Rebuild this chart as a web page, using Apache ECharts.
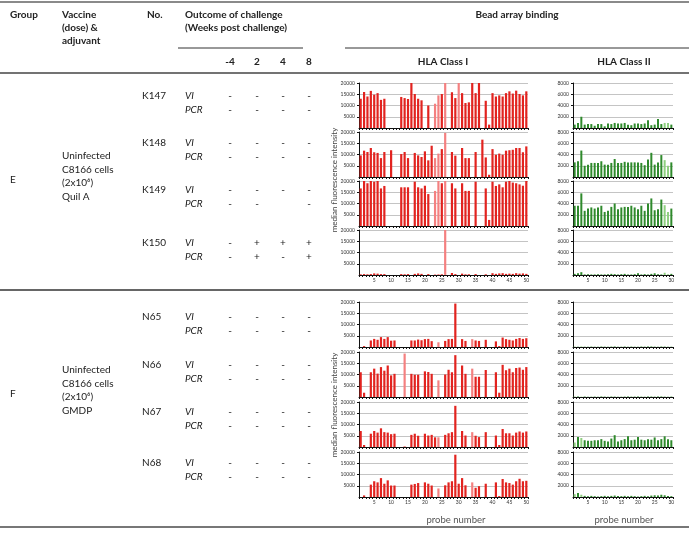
<!DOCTYPE html>
<html><head><meta charset="utf-8">
<script src="https://cdn.jsdelivr.net/npm/echarts@6/dist/echarts.min.js"></script>
<style>html,body{margin:0;padding:0;background:#fff}#c{width:689px;height:533px}</style>
</head><body><div id="c"></div>
<script>
// ---------- data ----------
const probesI = [1,2,3,4,5,6,7,8,9,10,11,12,13,14,15,16,17,18,19,20,21,22,23,24,25,26,27,28,29,30,31,32,33,34,35,36,37,38,39,40,41,42,43,44,45,46,47,48,49,50];
const probesII = [1,2,3,4,5,6,7,8,9,10,11,12,13,14,15,16,17,18,19,20,21,22,23,24,25,26,27,28,29,30];
const ticksI = [0,5000,10000,15000,20000];
const ticksII = [0,2000,4000,6000,8000];

const animalsE = ['K147','K148','K149','K150'];
const animalsF = ['N65','N66','N67','N68'];
const weeks = ['-4','2','4','8'];
const viE  = [['-','-','-','-'],['-','-','-','-'],['-','-','-','-'],['-','+','+','+']];
const pcrE = [['-','-','-','-'],['-','-','-','-'],['-','-','','-'],['-','+','-','+']];
const viF  = [['-','-','-','-'],['-','-','-','-'],['-','-','-','-'],['-','-','-','-']];
const pcrF = [['-','-','-','-'],['-','-','-','-'],['-','-','-','-'],['-','-','-','-']];

const K147_I = [13000,16000,14000,16500,14800,15500,12500,13000,null,null, null,null,13800,13300,12900,20000,15100,13000,12300,null, 10000,null,10800,14500,15100,20000,null,15900,13300,20000, 15500,11100,11400,20000,15500,20000,null,12100,1500,15500, 14000,14500,14000,15500,16300,15300,16600,15100,14500,16300];
const K148_I = [9600,11700,11100,12900,11000,10700,8400,11100,null,11900, null,null,10200,11100,8400,null,10700,9600,8900,11400, 7400,13900,8400,10400,12400,19600,null,11100,9500,null, 12900,8400,8400,null,11100,null,16600,8700,1000,12400, 9900,10400,9900,11700,11900,12100,12900,12900,11000,13600];
const K149_I = [16700,20000,19000,20000,19700,20000,16700,17800,null,null, null,null,17200,17200,17200,null,19700,17200,16700,17900, 14200,null,15600,20000,19000,20000,null,19000,16700,null, 19000,15600,15600,null,19700,null,null,16700,2700,19700, 17800,18500,17200,19700,20000,19300,19000,18500,17900,20000];
const K150_I = [300,400,300,400,700,600,400,400,null,null, null,null,400,300,400,null,500,700,500,null, 400,null,300,400,300,20000,null,900,400,null, 600,300,300,null,400,null,null,300,null,800, 500,700,800,500,600,500,800,600,700,500];

const K147_II = [600,900,2000,600,700,700,400,700,700,300,800,700,900,800,800,900,600,500,800,800,700,800,1400,500,600,1600,700,900,900,600];
const K148_II = [2600,2800,4700,2000,2200,2500,2500,2500,2800,2200,2200,2500,3200,2500,2500,2700,2600,2600,2600,2600,2500,2100,3100,4300,2200,2600,3900,3000,2000,2600];
const K149_II = [3600,3600,5800,2700,3100,3300,3100,3300,3600,2500,2700,3400,4000,3000,3300,3400,3400,3600,3300,3000,3600,2700,4000,4900,2800,3000,4700,3700,2500,3100];
const K150_II = [200,300,500,100,150,100,100,150,100,100,150,200,150,100,150,200,100,100,150,300,100,150,100,200,300,150,100,400,150,200];

const N65_I = [null,400,null,2900,3600,3200,4400,3600,4400,2800, 2900,null,null,null,null,2900,2900,3300,3000,3500, 3600,2600,null,2100,null,2700,3500,3600,19300,null, 3500,2700,null,3500,2900,2700,null,3200,null,null, 2500,400,4200,3500,3200,2900,3600,4000,3600,3900];
const N66_I = [11000,1900,null,11000,12600,10400,13300,11700,14000,9600, 10300,null,null,19300,null,10300,9900,9900,null,11400, 11100,10300,null,7400,null,10000,12100,11000,18600,null, 14000,10300,null,12600,9000,9000,null,12000,null,null, 11000,1900,14300,11900,12600,11000,12900,13100,12100,13300];
const N67_I = [7100,900,null,5900,7100,6400,8300,6600,6400,5700, 5900,null,null,400,null,5400,5900,5000,null,5900, 5100,5400,4300,4300,null,5400,6100,6600,18300,null, 7100,5100,null,6600,5000,4400,null,6600,null,null, 5100,900,8000,6100,6100,5100,6400,6900,6400,6900];
const N68_I = [null,700,null,5500,7000,6500,8400,5900,7400,5100, 5100,null,null,null,null,5500,5800,6200,null,6500, 5900,5100,null,3800,null,5200,6500,7000,18800,5900, 8400,5200,null,6500,4100,4800,null,5900,null,null, 6500,400,8000,6500,6200,5500,7000,8100,7000,7200];

const N65_II = [80,60,100,50,60,70,50,60,80,60,50,70,90,60,50,80,60,70,50,60,80,60,70,90,60,50,80,70,60,50];
const N66_II = [90,70,60,80,60,50,70,60,90,70,60,80,70,60,50,70,80,60,70,90,60,50,70,80,60,70,90,60,50,70];
const N67_II = [800,1800,1600,1200,1100,1100,1200,1200,1400,1100,1000,1500,2100,1000,1200,1400,1900,1200,1300,1800,1300,1200,1400,1300,1700,1200,1400,1900,1400,1200];
const N68_II = [500,700,400,200,150,200,150,100,150,200,150,200,250,200,150,200,150,200,150,100,150,200,150,250,300,250,400,300,200,150];

const lightE_I = [23,24,26,30];
const lightF_I = [14,24,34];
const lightE_II = [28,29];
const lightF_II = [1,3];

// ---------- layout ----------
const FONT = "Lato, 'DejaVu Sans', sans-serif";
const topsE = [83,132,181,230];
const topsF = [302,352,402,452];
const PH = 45;

const panels = [];
const seriesE_I = [K147_I,K148_I,K149_I,K150_I];
const seriesE_II = [K147_II,K148_II,K149_II,K150_II];
const seriesF_I = [N65_I,N66_I,N67_I,N68_I];
const seriesF_II = [N65_II,N66_II,N67_II,N68_II];
for (let i=0;i<4;i++){
  panels.push({cls:'I', top:topsE[i], data:seriesE_I[i], light:lightE_I, last:i===3});
  panels.push({cls:'II', top:topsE[i], data:seriesE_II[i], light:lightE_II, last:i===3});
  panels.push({cls:'I', top:topsF[i], data:seriesF_I[i], light:lightF_I, last:i===3});
  panels.push({cls:'II', top:topsF[i], data:seriesF_II[i], light:lightF_II, last:i===3});
}

const grid=[], xAxis=[], yAxis=[], series=[];
panels.forEach((p,k)=>{
  const isI = p.cls==='I';
  const ticks = isI?ticksI:ticksII;
  grid.push({left:isI?359:573, width:isI?169:100, top:p.top, height:PH});
  xAxis.push({type:'category', gridIndex:k, data:isI?probesI:probesII, boundaryGap:true,
    axisLine:{lineStyle:{color:'#111',width:1}},
    axisTick:{show:true, interval:0, length:2, lineStyle:{color:'#111',width:1}},
    axisLabel:{show:p.last, interval:(idx)=>((idx+1)%5===0), fontSize:5, margin:3, color:'#333', fontFamily:FONT},
    splitLine:{show:false}});
  yAxis.push({type:'value', gridIndex:k, min:ticks[0], max:ticks[ticks.length-1], interval:ticks[1]-ticks[0],
    axisLine:{show:true, lineStyle:{color:'#111',width:1}},
    axisTick:{show:true, length:2, lineStyle:{color:'#111'}},
    splitLine:{show:true, lineStyle:{color:'#c4c4c4', width:1}},
    axisLabel:{fontSize:5, margin:4, color:'#333', showMinLabel:false, fontFamily:FONT,
      formatter:(v)=>String(v)}});
  const dark = isI?'#e2231f':'#2f8a2c';
  const lite = isI?'#f48080':'#8fcf80';
  series.push({type:'bar', xAxisIndex:k, yAxisIndex:k, barWidth:isI?2.2:2, silent:true, animation:false,
    data:p.data.map((v,j)=> v===null?null:{value:v, itemStyle:{color: p.light.indexOf(j+1)>=0?lite:dark}})});
});

// ---------- table graphics ----------
const g = [];
function txt(x,y,s,o){ o=o||{}; g.push({type:'text', x:x, y:y, rotation:o.rot||0, silent:true,
  style:{text:s, fill:o.color||'#222', font:(o.italic?'italic ':'')+(o.bold?'bold ':'')+(o.size||10)+'px '+FONT,
  align:o.align||'left', verticalAlign:'middle'}}); }
function line(x1,y1,x2,y2,c,w){ g.push({type:'line', silent:true, shape:{x1,y1,x2,y2}, style:{stroke:c,lineWidth:w}}); }

line(0,2,689,2,'#8a8a8a',2);
line(0,73,689,73,'#444',1.5);
line(0,290,689,290,'#333',1.5);
line(0,527,689,527,'#777',2);
line(178,48,303,48,'#333',1);
line(345,48,689,48,'#333',1);

txt(10,15,'Group',{bold:true});
txt(62,15,'Vaccine',{bold:true});
txt(62,28,'(dose) &',{bold:true});
txt(62,41,'adjuvant',{bold:true});
txt(147,15,'No.',{bold:true});
txt(185,15,'Outcome of challenge',{bold:true});
txt(185,28,'(Weeks post challenge)',{bold:true});
const wx = [230,257,283,309];
weeks.forEach((w,i)=>txt(wx[i],62,w,{bold:true,align:'center'}));
txt(517,15,'Bead array binding',{bold:true,align:'center'});
txt(443,62,'HLA Class I',{bold:true,align:'center'});
txt(624,62,'HLA Class II',{bold:true,align:'center'});

function group(letter, ly, lines, names, rows, vi, pcr){
  txt(10,ly,letter);
  lines.forEach((s,i)=>txt(62,ly-24+i*13.5,s));
  names.forEach((n,i)=>{
    const y = rows[i];
    txt(142,y,n);
    txt(185,y,'VI',{italic:true});
    txt(185,y+14,'PCR',{italic:true});
    vi[i].forEach((s,j)=>{ if(s) txt(wx[j],y,s,{align:'center'}); });
    pcr[i].forEach((s,j)=>{ if(s) txt(wx[j],y+14,s,{align:'center'}); });
  });
}
group('E',180,['Uninfected','C8166 cells','(2x10\u2076)','Quil A'],animalsE,[96,143,190,243],viE,pcrE);
group('F',394,['Uninfected','C8166 cells','(2x10\u2076)','GMDP'],animalsF,[317,365,412,463],viF,pcrF);

txt(334,180,'median fluorescence intensity',{rot:Math.PI/2,align:'center',size:8,color:'#444'});
txt(334,405,'median fluorescence intensity',{rot:Math.PI/2,align:'center',size:8,color:'#444'});
txt(456,520,'probe number',{align:'center',size:9.5,color:'#555'});
txt(624,520,'probe number',{align:'center',size:9.5,color:'#555'});

const chart = echarts.init(document.getElementById('c'), null, {renderer:'canvas'});
chart.setOption({animation:false, backgroundColor:'#fff', grid, xAxis, yAxis, series, graphic:g});
</script></body></html>
